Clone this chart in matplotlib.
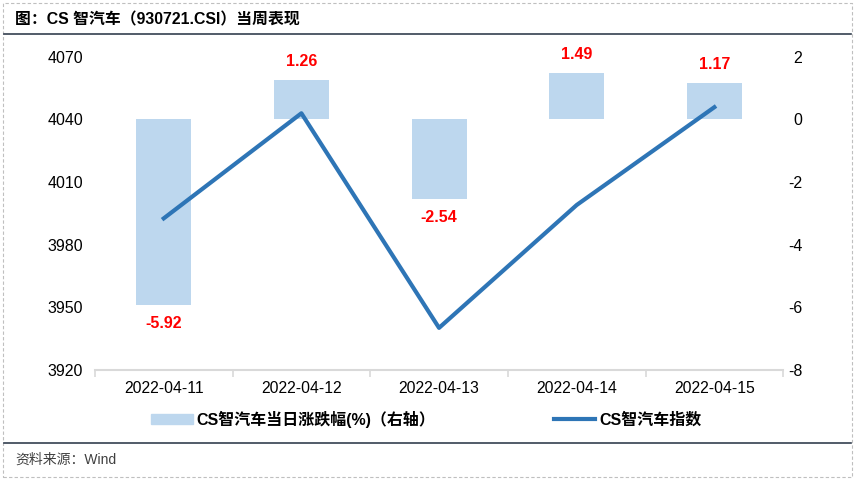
import matplotlib.pyplot as plt
from matplotlib.lines import Line2D
from matplotlib.patches import Rectangle

plt.rcParams["font.family"] = ["Liberation Sans", "Noto Sans CJK SC"]
plt.rcParams["axes.unicode_minus"] = False

# -------------------------------------------------
# DATA
# -------------------------------------------------

dates = ["2022-04-11", "2022-04-12", "2022-04-13", "2022-04-14", "2022-04-15"]
daily_change = [-5.92, 1.26, -2.54, 1.49, 1.17]
index_close = [3992.6, 4042.9, 3940.2, 3999.0, 4045.8]

title = "图：CS 智汽车（930721.CSI）当周表现"
bar_label = "CS智汽车当日涨跌幅(%)（右轴）"
line_label = "CS智汽车指数"
source = "资料来源：Wind"

bar_color = "#BDD7EE"
line_color = "#2E75B6"

# -------------------------------------------------
# PLOT
# -------------------------------------------------

fig = plt.figure(figsize=(8.55, 4.8), dpi=100)
ax = fig.add_axes([0.111, 0.229, 0.805, 0.653])
ax2 = ax.twinx()

x = list(range(len(dates)))

ax2.bar(x, daily_change, width=0.4, color=bar_color, zorder=1)
for xi, v in zip(x, daily_change):
    off = 0.35 if v > 0 else -0.35
    ax2.text(xi, v + off, f"{v:.2f}", color="red", fontweight="bold",
             fontsize=11.5, ha="center", va="bottom" if v > 0 else "top")

ax.plot(x, index_close, color=line_color, linewidth=3, zorder=3)
ax.set_zorder(ax2.get_zorder() + 1)
ax.patch.set_visible(False)

ax.set_ylim(3920, 4070)
ax.set_yticks(range(3920, 4071, 30))
ax2.set_ylim(-8, 2)
ax2.set_yticks(range(-8, 3, 2))
ax.set_xlim(-0.5, len(dates) - 0.5)

ax.set_xticks(x)
ax.set_xticklabels(dates)
ax.set_xticks([i + 0.5 for i in range(-1, len(dates))], minor=True)
ax.tick_params(axis="x", which="major", length=0, pad=8, labelsize=11.3)
ax.tick_params(axis="x", which="minor", length=5, color="#D9D9D9", width=1.2)
ax.tick_params(axis="y", length=0, labelsize=11.5, pad=8.6)
ax2.tick_params(axis="y", length=0, labelsize=11.5, pad=13.7)
for lbl in ax2.get_yticklabels():
    lbl.set_horizontalalignment("right")

for a in (ax, ax2):
    for s in ("top", "left", "right", "bottom"):
        a.spines[s].set_visible(False)
ax.spines["bottom"].set_visible(True)
ax.spines["bottom"].set_color("#D9D9D9")
ax.spines["bottom"].set_linewidth(1.5)

handles = [
    Rectangle((0, 0), 1, 1, color=bar_color),
    Line2D([0], [0], color=line_color, linewidth=3),
]
fig.legend(handles, [bar_label, line_label], loc="center left",
           bbox_to_anchor=(0.177, 0.127), ncol=2, frameon=False,
           prop={"weight": "bold", "size": 11.5},
           columnspacing=7.4, handlelength=2.6, handleheight=0.55,
           handletextpad=0.25, borderaxespad=0, borderpad=0)

# title, rules, source
fig.text(0.018, 0.958, title, fontsize=11.4, fontweight="bold", va="center")
fig.add_artist(Line2D([0.005, 0.995], [0.929, 0.929], color="#333F4F", linewidth=1.2))
fig.add_artist(Line2D([0.005, 0.995], [0.077, 0.077], color="#333F4F", linewidth=1.2))
fig.text(0.018, 0.043, source, fontsize=10, color="#404040", va="center")
fig.add_artist(Rectangle((0.004, 0.006), 0.992, 0.988, fill=False,
                         edgecolor="#BFBFBF", linestyle=(0, (3, 2)), linewidth=0.8))

plt.savefig("out.png", dpi=100)
